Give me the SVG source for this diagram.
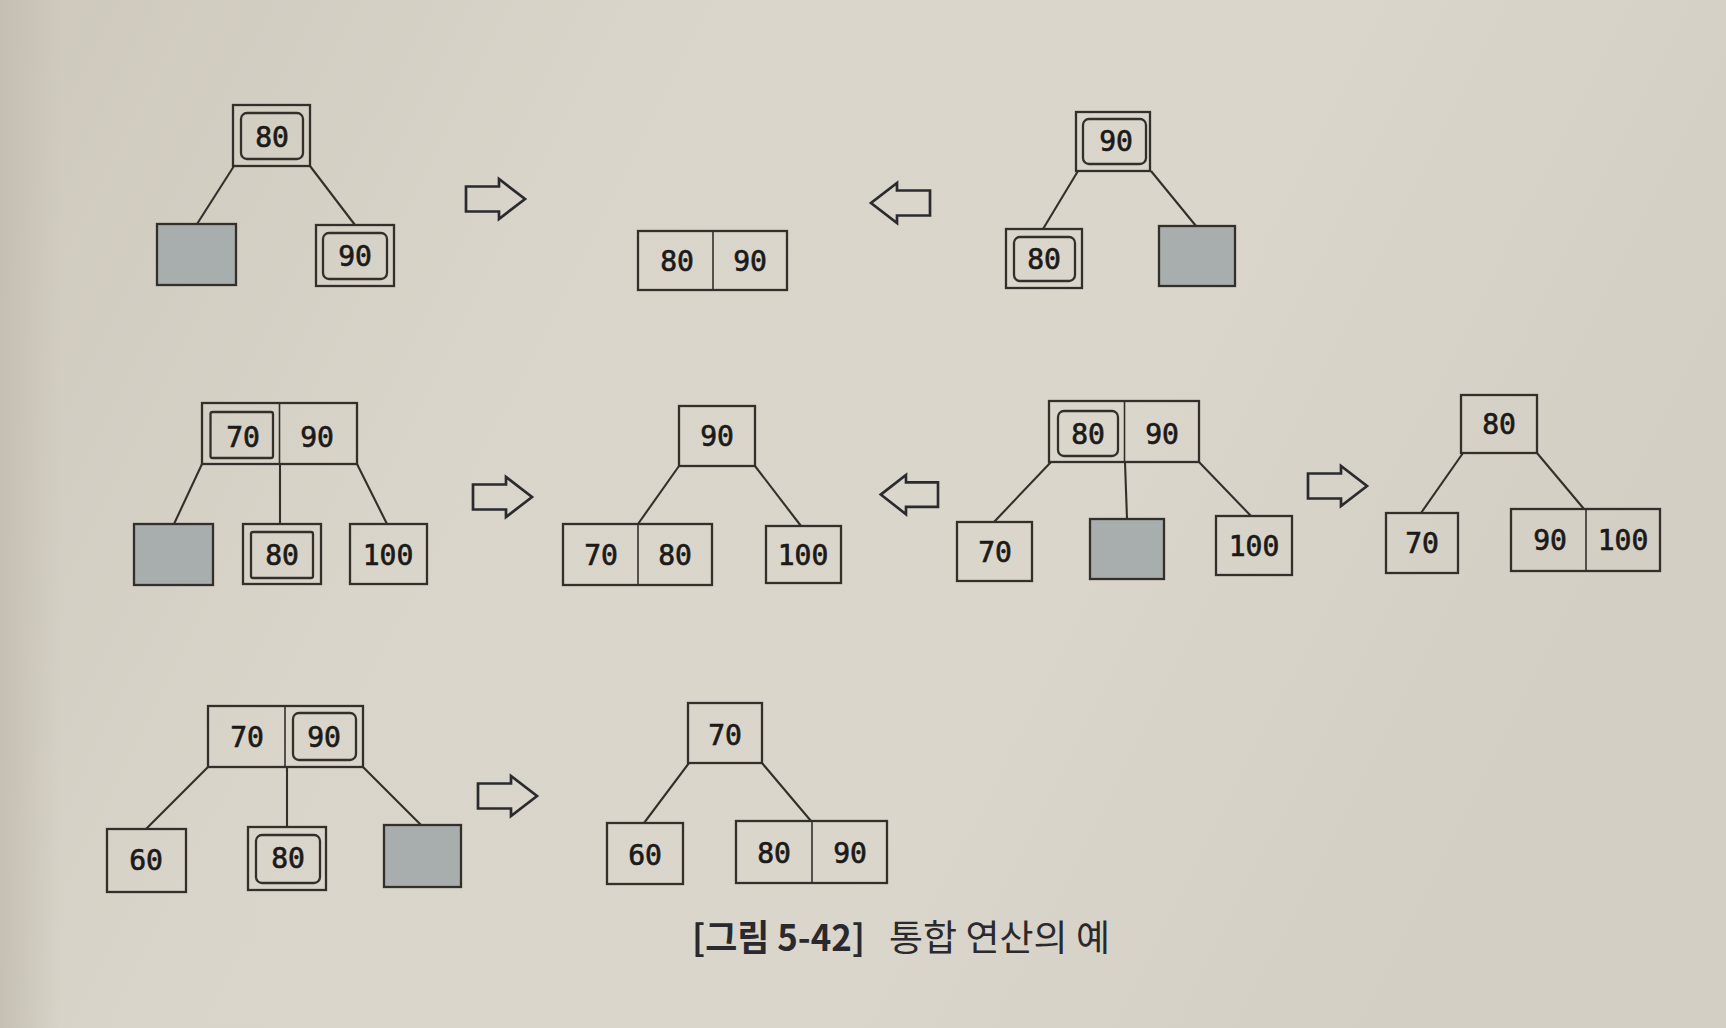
<svg xmlns="http://www.w3.org/2000/svg" xmlns:xlink="http://www.w3.org/1999/xlink" width="1726" height="1028" viewBox="0 0 1726 1028">
<defs>
<linearGradient id="paper" x1="0" y1="0" x2="1" y2="0.3">
<stop offset="0" stop-color="#cec8bc"/>
<stop offset="0.35" stop-color="#d9d5ca"/>
<stop offset="0.7" stop-color="#dad6cb"/>
<stop offset="1" stop-color="#d4cfc4"/>
</linearGradient>
<linearGradient id="edge" x1="0" y1="0" x2="1" y2="0">
<stop offset="0" stop-color="#c4beb1" stop-opacity="0.9"/>
<stop offset="1" stop-color="#c4beb1" stop-opacity="0"/>
</linearGradient>
<path id="arrowR" d="M0,7.5 H33 V0 L59,20 L33,40 V32.5 H0 Z"/>
</defs>
<style>
.box{fill:none;stroke:#33302c;stroke-width:2.3}
.inner{fill:none;stroke:#33302c;stroke-width:2.3}
.empty{fill:#a8adad;stroke:#33302c;stroke-width:2.3}
.div{stroke:#33302c;stroke-width:1.6}
.edge{stroke:#33302c;stroke-width:2.1;fill:none}
.arrow{fill:none;stroke:#2b2b2f;stroke-width:2.7;stroke-linejoin:miter}
.k{font-family:"DejaVu Sans Mono","Liberation Mono",monospace;font-size:28px;fill:#1c1a18;stroke:#1c1a18;stroke-width:0.7;text-anchor:middle}
.cap{font-family:"Noto Sans CJK KR","Noto Sans",sans-serif;font-size:36px;fill:#2a2a2e}
</style>
<rect x="0" y="0" width="1726" height="1028" fill="url(#paper)"/>
<rect x="0" y="0" width="60" height="1028" fill="url(#edge)"/>

<g id="connectors">
<line class="edge" x1="234" y1="166" x2="197" y2="224"/>
<line class="edge" x1="310" y1="166" x2="355" y2="225"/>
<line class="edge" x1="1078" y1="171" x2="1043" y2="229"/>
<line class="edge" x1="1151" y1="171" x2="1196" y2="226"/>
<line class="edge" x1="202" y1="464" x2="174" y2="524"/>
<line class="edge" x1="280" y1="464" x2="280" y2="524"/>
<line class="edge" x1="357" y1="464" x2="387" y2="524"/>
<line class="edge" x1="679" y1="466" x2="638" y2="524"/>
<line class="edge" x1="755" y1="466" x2="801" y2="526"/>
<line class="edge" x1="1051" y1="462" x2="994" y2="522"/>
<line class="edge" x1="1125" y1="462" x2="1127" y2="519"/>
<line class="edge" x1="1199" y1="462" x2="1251" y2="516"/>
<line class="edge" x1="1463" y1="453" x2="1421" y2="513"/>
<line class="edge" x1="1537" y1="453" x2="1584" y2="509"/>
<line class="edge" x1="208" y1="767" x2="146" y2="829"/>
<line class="edge" x1="287" y1="767" x2="287" y2="827"/>
<line class="edge" x1="363" y1="767" x2="421" y2="825"/>
<line class="edge" x1="689" y1="763" x2="644" y2="823"/>
<line class="edge" x1="762" y1="763" x2="811" y2="821"/>
</g>

<g id="arrows">
<use xlink:href="#arrowR" class="arrow" transform="translate(466,179)"/>
<use xlink:href="#arrowR" class="arrow" transform="translate(930,183) scale(-1,1)"/>
<use xlink:href="#arrowR" class="arrow" transform="translate(473,477)"/>
<use xlink:href="#arrowR" class="arrow" transform="translate(938,475) scale(-0.97,0.98)"/>
<use xlink:href="#arrowR" class="arrow" transform="translate(1308,466)"/>
<use xlink:href="#arrowR" class="arrow" transform="translate(478,776)"/>
</g>

<!-- Row 1, left tree -->
<g id="t1-root">
<rect class="box" x="233" y="105" width="77" height="61"/>
<rect class="inner" x="241" y="113" width="62" height="46" rx="6"/>
<text class="k" x="272" y="147">80</text>
</g>
<g id="t1-left"><rect class="empty" x="157" y="224" width="79" height="61"/></g>
<g id="t1-right">
<rect class="box" x="316" y="225" width="78" height="61"/>
<rect class="inner" x="323" y="233" width="64" height="46" rx="6"/>
<text class="k" x="355" y="266">90</text>
</g>

<!-- Row 1, merged result -->
<g id="r1-node">
<rect class="box" x="638" y="231" width="149" height="59"/>
<line class="div" x1="713" y1="231" x2="713" y2="290"/>
<text class="k" x="677" y="271">80</text>
<text class="k" x="750" y="271">90</text>
</g>

<!-- Row 1, right tree -->
<g id="t2-root">
<rect class="box" x="1076" y="112" width="74" height="59"/>
<rect class="inner" x="1083" y="119" width="63" height="45" rx="6"/>
<text class="k" x="1116" y="151">90</text>
</g>
<g id="t2-left">
<rect class="box" x="1006" y="229" width="76" height="59"/>
<rect class="inner" x="1014" y="237" width="61" height="44" rx="6"/>
<text class="k" x="1044" y="269">80</text>
</g>
<g id="t2-right"><rect class="empty" x="1159" y="226" width="76" height="60"/></g>

<!-- Row 2, left tree -->
<g id="t3-root">
<rect class="box" x="202" y="403" width="155" height="61"/>
<line class="div" x1="279.5" y1="403" x2="279.5" y2="464"/>
<rect class="inner" x="210.5" y="412" width="62.5" height="46" rx="2"/>
<text class="k" x="243" y="447">70</text>
<text class="k" x="317" y="447">90</text>
</g>
<g id="t3-left"><rect class="empty" x="134" y="524" width="79" height="61"/></g>
<g id="t3-mid">
<rect class="box" x="243" y="524" width="78" height="60"/>
<rect class="inner" x="251" y="532" width="62" height="46" rx="2"/>
<text class="k" x="282" y="565">80</text>
</g>
<g id="t3-right">
<rect class="box" x="350" y="524" width="77" height="60"/>
<text class="k" x="388" y="565">100</text>
</g>

<!-- Row 2, result of left tree -->
<g id="r3-root">
<rect class="box" x="679" y="406" width="76" height="60"/>
<text class="k" x="717" y="446">90</text>
</g>
<g id="r3-left">
<rect class="box" x="563" y="524" width="149" height="61"/>
<line class="div" x1="638" y1="524" x2="638" y2="585"/>
<text class="k" x="601" y="565">70</text>
<text class="k" x="675" y="565">80</text>
</g>
<g id="r3-right">
<rect class="box" x="766" y="526" width="75" height="57"/>
<text class="k" x="803" y="565">100</text>
</g>

<!-- Row 2, right tree -->
<g id="t4-root">
<rect class="box" x="1049" y="401" width="150" height="61"/>
<line class="div" x1="1124.5" y1="401" x2="1124.5" y2="462"/>
<rect class="inner" x="1058" y="411" width="60" height="45" rx="6"/>
<text class="k" x="1088" y="444">80</text>
<text class="k" x="1162" y="444">90</text>
</g>
<g id="t4-left">
<rect class="box" x="957" y="522" width="75" height="59"/>
<text class="k" x="995" y="562">70</text>
</g>
<g id="t4-mid"><rect class="empty" x="1090" y="519" width="74" height="60"/></g>
<g id="t4-right">
<rect class="box" x="1216" y="516" width="76" height="59"/>
<text class="k" x="1254" y="556">100</text>
</g>

<!-- Row 2, result of right tree -->
<g id="r4-root">
<rect class="box" x="1461" y="395" width="76" height="58"/>
<text class="k" x="1499" y="434">80</text>
</g>
<g id="r4-left">
<rect class="box" x="1386" y="513" width="72" height="60"/>
<text class="k" x="1422" y="553">70</text>
</g>
<g id="r4-right">
<rect class="box" x="1511" y="509" width="149" height="62"/>
<line class="div" x1="1586" y1="509" x2="1586" y2="571"/>
<text class="k" x="1550" y="550">90</text>
<text class="k" x="1623" y="550">100</text>
</g>

<!-- Row 3, left tree -->
<g id="t5-root">
<rect class="box" x="208" y="706" width="155" height="61"/>
<line class="div" x1="285" y1="706" x2="285" y2="767"/>
<rect class="inner" x="293" y="713" width="63" height="47" rx="6"/>
<text class="k" x="247" y="747">70</text>
<text class="k" x="324" y="747">90</text>
</g>
<g id="t5-left">
<rect class="box" x="107" y="829" width="79" height="63"/>
<text class="k" x="146" y="870">60</text>
</g>
<g id="t5-mid">
<rect class="box" x="248" y="827" width="78" height="63"/>
<rect class="inner" x="256" y="835" width="64" height="48" rx="6"/>
<text class="k" x="288" y="868">80</text>
</g>
<g id="t5-right"><rect class="empty" x="384" y="825" width="77" height="62"/></g>

<!-- Row 3, result -->
<g id="r5-root">
<rect class="box" x="688" y="703" width="74" height="60"/>
<text class="k" x="725" y="745">70</text>
</g>
<g id="r5-left">
<rect class="box" x="607" y="823" width="76" height="61"/>
<text class="k" x="645" y="865">60</text>
</g>
<g id="r5-right">
<rect class="box" x="736" y="821" width="151" height="62"/>
<line class="div" x1="812" y1="821" x2="812" y2="883"/>
<text class="k" x="774" y="863">80</text>
<text class="k" x="850" y="863">90</text>
</g>

<g id="caption">
<text class="cap" x="692" y="951" font-weight="700" fill="#25262e" textLength="173" lengthAdjust="spacingAndGlyphs">[그림 5-42]</text>
<text class="cap" x="889" y="951" textLength="221" lengthAdjust="spacingAndGlyphs">통합 연산의 예</text>
</g>
</svg>
